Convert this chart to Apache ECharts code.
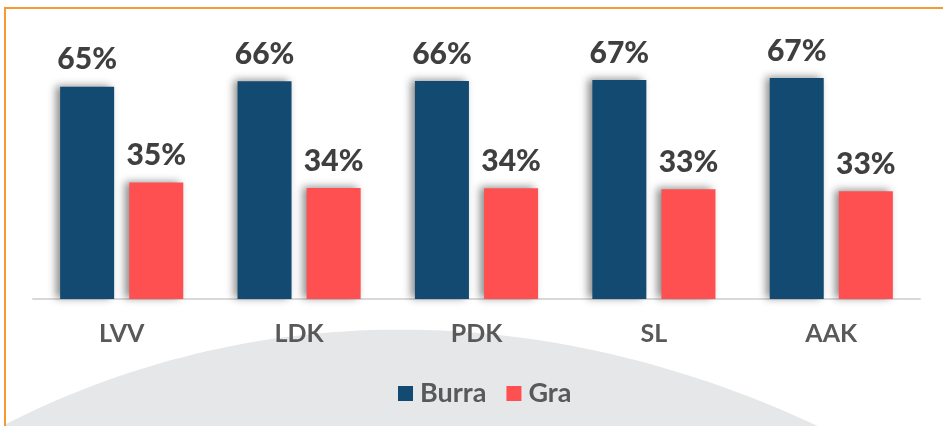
<!DOCTYPE html>
<html>
<head>
<meta charset="utf-8">
<script src="https://cdn.jsdelivr.net/npm/echarts@6/dist/echarts.min.js"></script>
<style>
  html, body { margin: 0; padding: 0; background: #fff; }
  #main { width: 943px; height: 426px; }
</style>
</head>
<body>
<div id="main"></div>
<script>
var categories = ['LVV', 'LDK', 'PDK', 'SL', 'AAK'];
var burra = [64.6, 66.2, 66.3, 66.6, 67.2];
var gra = [35.4, 33.8, 33.7, 33.4, 32.8];

var myChart = echarts.init(document.getElementById('main'));

// background hill shape (decoration only), sampled from a cubic curve
function hillPoints() {
    var p0 = [6, 424], p1 = [250, 300], p2 = [540, 295], p3 = [822, 428];
    var pts = [];
    for (var i = 0; i <= 60; i++) {
        var t = i / 60, u = 1 - t;
        var a = u * u * u, b = 3 * u * u * t, c = 3 * u * t * t, d = t * t * t;
        pts.push([a * p0[0] + b * p1[0] + c * p2[0] + d * p3[0],
                  a * p0[1] + b * p1[1] + c * p2[1] + d * p3[1]]);
    }
    pts.push([822, 440]);
    pts.push([6, 440]);
    return pts;
}

var labelStyle = {
    show: true,
    position: 'top',
    distance: 12,
    fontFamily: 'Lato',
    fontWeight: 900,
    fontSize: 30,
    color: '#3f3f3f',
    formatter: function(p) {
        return Math.round(p.value) + '%';
    }
};
var barShadow = {
    shadowColor: 'rgba(0,0,0,0.45)',
    shadowBlur: 8,
    shadowOffsetX: -4,
    shadowOffsetY: -1
};

var option = {
    backgroundColor: '#ffffff',
    animation: false,
    graphic: [{
        type: 'polygon',
        z: -10,
        shape: { points: hillPoints() },
        style: { fill: '#e6e7e9' }
    }, {
        type: 'rect',
        z: -5,
        shape: { x: 5, y: 8, width: 1000, height: 600 },
        style: { fill: 'none', stroke: '#f39a30', lineWidth: 2 }
    }],
    grid: {
        left: 33,
        right: 23,
        top: 36,
        bottom: 127
    },
    legend: {
        top: 375,
        left: 393,
        itemWidth: 15,
        itemHeight: 15,
        itemGap: 20,
        icon: 'rect',
        textStyle: {
            fontFamily: 'Lato',
            fontWeight: 'bold',
            fontSize: 27,
            color: '#595959',
            padding: [0, 0, 0, 2]
        },
        data: ['Burra', 'Gra']
    },
    xAxis: {
        type: 'category',
        data: categories,
        axisLine: { lineStyle: { color: '#d9d9d9', width: 2 } },
        axisTick: { show: false },
        axisLabel: {
            margin: 22,
            fontFamily: 'Lato',
            fontWeight: 'bold',
            fontSize: 25,
            color: '#595959'
        }
    },
    yAxis: {
        type: 'value',
        min: 0,
        max: 80,
        show: false,
        splitLine: { show: false }
    },
    series: [{
        name: 'Burra',
        type: 'bar',
        barWidth: 54,
        barGap: '28%',
        data: burra,
        itemStyle: Object.assign({ color: '#124a72' }, barShadow),
        label: labelStyle
    }, {
        name: 'Gra',
        type: 'bar',
        barWidth: 54,
        data: gra,
        itemStyle: Object.assign({ color: '#fe5050' }, barShadow),
        label: labelStyle
    }]
};
myChart.setOption(option);
</script>
</body>
</html>
